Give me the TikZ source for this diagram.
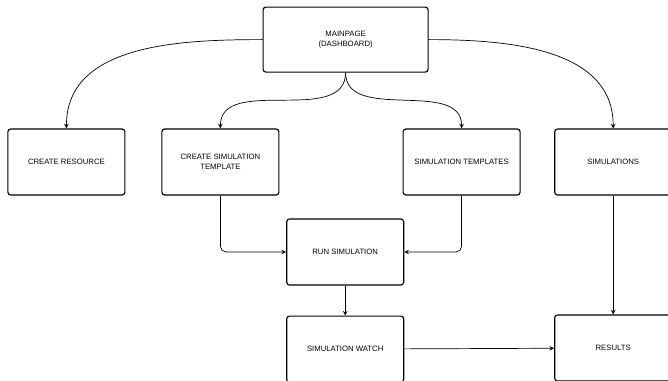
\documentclass[tikz,border=0pt]{standalone}
\usepackage{fontspec}
\setmainfont{Liberation Sans}
\usepackage{tikz}
\usetikzlibrary{shapes.geometric, arrows, positioning}
\tikzstyle{process} = [rectangle, rounded corners=2pt, minimum width=2.925cm, minimum height=1.65cm, align=center, draw=black, line width=0.8pt, font=\fontsize{5.5}{7.1}\selectfont]
\tikzstyle{arrow} = [->,>=stealth, line width=0.5pt]

\begin{document}
\begin{tikzpicture}
			\useasboundingbox (0,0) rectangle (16.7,-9.525);
			\node (mainpage) [process, minimum width=4.125cm, minimum height=1.625cm] at (8.64,-0.99) {MAINPAGE\\(DASHBOARD)};
			\node (resource) [process] at (1.66,-4.05) {CREATE RESOURCE};
			\node (simtemplate) [process] at (5.51,-4.05) {CREATE SIMULATION\\TEMPLATE};
			\node (templates) [process] at (11.54,-4.05) {SIMULATION TEMPLATES};
			\node (simulations) [process] at (15.33,-4.05) {SIMULATIONS};
			\node (runsim) [process] at (8.63,-6.3) {RUN SIMULATION};
			\node (simwatch) [process, below=0.75cm of runsim] {SIMULATION WATCH};
			\node (results) [process] at (15.33,-8.7) {RESULTS};
			\draw [arrow] (mainpage.west) to[out=180,in=90] (resource.north);
			\draw [arrow] (mainpage.east) to[out=0,in=90] (simulations.north);
			\draw [arrow] (mainpage.south) to[out=-90,in=90] (simtemplate.north);
			\draw [arrow] (mainpage.south) to[out=-90,in=90] (templates.north);
			\draw [arrow, rounded corners=4pt] (simtemplate.south) |- (runsim.west);
			\draw [arrow, rounded corners=4pt] (templates.south) |- (runsim.east);
			\draw [arrow] (runsim) -- (simwatch);
			\draw [arrow] (simwatch) -- (results);
			\draw [arrow] (simulations) -- (results);
		\end{tikzpicture}
\end{document}
